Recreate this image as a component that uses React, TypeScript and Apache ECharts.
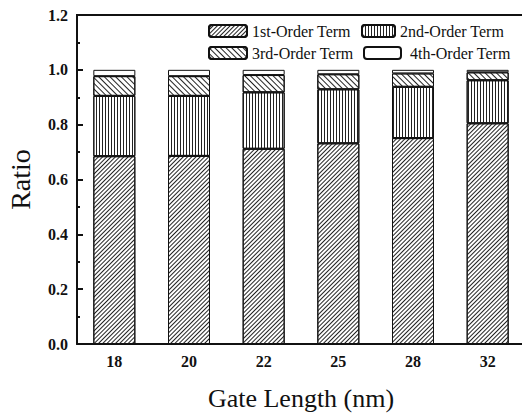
import React, { useEffect, useRef } from "react";
import * as echarts from "echarts";

const categories = ["18", "20", "22", "25", "28", "32"];
const firstOrder = [0.685, 0.686, 0.712, 0.732, 0.751, 0.805];
const secondOrder = [0.22, 0.219, 0.206, 0.197, 0.187, 0.157];
const thirdOrder = [0.072, 0.072, 0.063, 0.055, 0.049, 0.029];
const fourthOrder = [0.023, 0.023, 0.019, 0.016, 0.013, 0.009];
const seriesNames = ["1st-Order Term", "2nd-Order Term", "3rd-Order Term", "4th-Order Term"];

const FONT = "'Liberation Serif', 'Times New Roman', serif";

export default function App() {
  const ref = useRef<HTMLDivElement>(null);
  useEffect(() => {
    if (!ref.current) return;
    const chart = echarts.init(ref.current, undefined, { renderer: "svg" });
    const border = { borderColor: "#111", borderWidth: 1 };
    const decals: any[] = [
      { symbol: "rect", symbolSize: 1, dashArrayX: [1, 0], dashArrayY: [1, 2], rotation: -Math.PI / 4, color: "#222", backgroundColor: "#fff" },
      { symbol: "rect", symbolSize: 1, dashArrayX: [1, 2], dashArrayY: [1, 0], rotation: 0, color: "#222", backgroundColor: "#fff" },
      { symbol: "rect", symbolSize: 1, dashArrayX: [1, 0], dashArrayY: [1, 3], rotation: Math.PI / 4, color: "#222", backgroundColor: "#fff" },
      null,
    ];
    const datas = [firstOrder, secondOrder, thirdOrder, fourthOrder];
    const legendPos = [
      { left: 208, top: 23, w: 38 },
      { left: 361, top: 23, w: 33 },
      { left: 208, top: 45, w: 38 },
      { left: 363, top: 45, w: 37 },
    ];
    chart.setOption({
      animation: false,
      textStyle: { fontFamily: FONT },
      grid: { left: 77, top: 15, width: 448, height: 329, containLabel: false, outerBoundsMode: "none" },
      legend: seriesNames.map((n, i) => ({
        data: [n],
        left: legendPos[i].left,
        top: legendPos[i].top,
        width: 200,
        orient: "horizontal",
        itemWidth: legendPos[i].w,
        itemHeight: 12,
        itemGap: 0,
        padding: 0,
        textStyle: { fontFamily: FONT, fontSize: 16, color: "#111", padding: i === 3 ? [0, 0, 0, 4] : 0 },
        selectedMode: false,
      })),
      xAxis: {
        type: "category",
        data: categories,
        axisLine: { lineStyle: { color: "#111", width: 2 } },
        axisTick: { show: false },
        axisLabel: { fontFamily: FONT, fontSize: 16, fontWeight: "bold", color: "#111", margin: 9 },
        name: "Gate Length (nm)",
        nameLocation: "middle",
        nameGap: 41,
        nameTextStyle: { fontFamily: FONT, fontSize: 26, color: "#111" },
      },
      yAxis: {
        type: "value",
        min: 0,
        max: 1.2,
        interval: 0.2,
        axisLine: { show: true, lineStyle: { color: "#111", width: 2 } },
        axisTick: { show: true, inside: true, length: 6, lineStyle: { color: "#111", width: 2 } },
        minorTick: { show: true, splitNumber: 2, length: 3, lineStyle: { color: "#111", width: 2 } },
        splitLine: { show: false },
        axisLabel: {
          fontFamily: FONT,
          fontSize: 16,
          fontWeight: "bold",
          color: "#111",
          margin: 9,
          formatter: (v: number) => v.toFixed(1),
        },
        name: "Ratio",
        nameLocation: "middle",
        nameGap: 43,
        nameTextStyle: { fontFamily: FONT, fontSize: 28, color: "#111" },
      },
      graphic: [
        {
          type: "line",
          shape: { x1: 76, y1: 15, x2: 522, y2: 15 },
          style: { stroke: "#111", lineWidth: 2 },
          silent: true,
        },
      ],
      series: seriesNames.map((name, i) => ({
        name,
        type: "bar",
        stack: "total",
        barWidth: 42,
        data: datas[i],
        itemStyle: decals[i]
          ? { color: "#fff", ...border, decal: decals[i] }
          : { color: "#fff", ...border },
      })),
    });
    return () => chart.dispose();
  }, []);
  return <div ref={ref} style={{ width: 522, height: 416, position: "absolute", left: 0, top: 0 }} />;
}
